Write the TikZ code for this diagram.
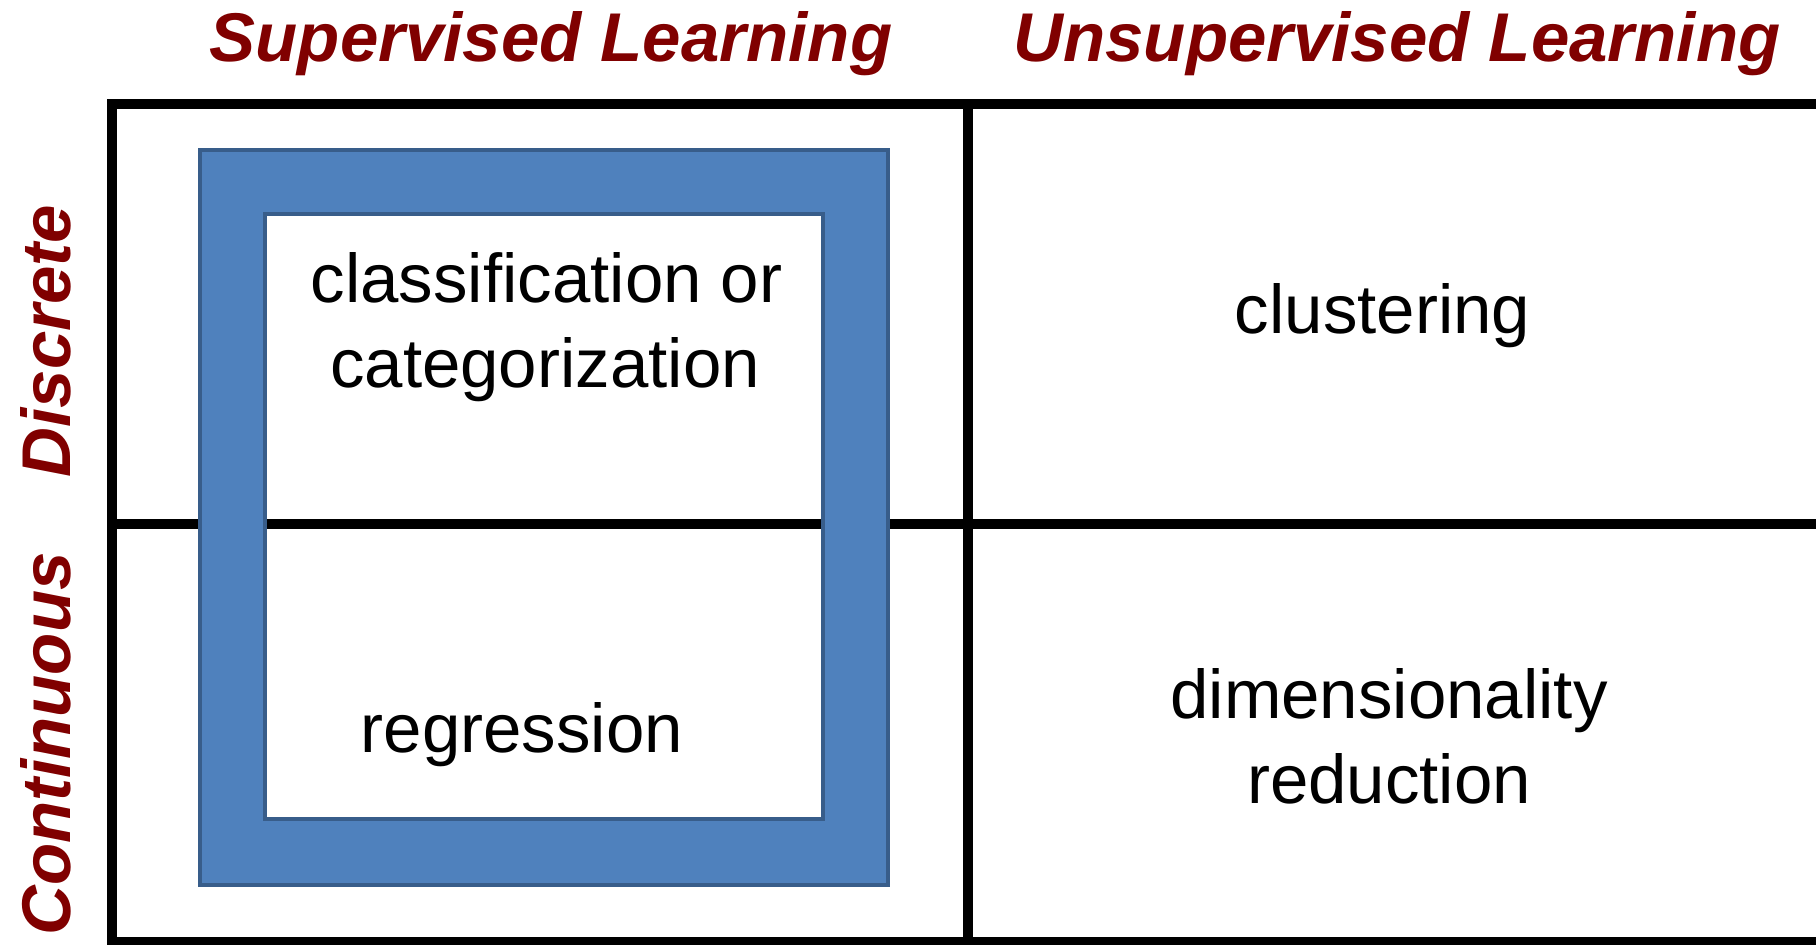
\documentclass[tikz,border=0pt]{standalone}
\usepackage{fontspec}
\setmainfont{Liberation Sans}
\definecolor{titlered}{RGB}{128,0,0}
\definecolor{frameblue}{RGB}{79,129,189}
\definecolor{frameline}{RGB}{56,93,138}
\tikzset{
  gridline/.style={line width=5pt, black, line join=miter},
  headtext/.style={font=\fontsize{34.5}{40}\selectfont\bfseries\itshape, text=titlered, inner sep=0pt, anchor=base},
  celltext/.style={font=\fontsize{34.5}{42}\selectfont, text=black, inner sep=0pt, anchor=base},
  framestyle/.style={fill=frameblue, draw=frameline, line width=2pt, even odd rule}
}
\begin{document}
\begin{tikzpicture}[x=0.5pt,y=-0.5pt]
\useasboundingbox (0,0) rectangle (1816,945);
\clip (0,0) rectangle (1816,945);
% grid coordinates
\coordinate (tl) at (112,104);
\coordinate (tr) at (1830,104);
\coordinate (bl) at (112,942);
\coordinate (br) at (1830,942);
\coordinate (mt) at (968,104);
\coordinate (mb) at (968,942);
\coordinate (ml) at (112,524.5);
\coordinate (mr) at (1830,524.5);
\draw[gridline] (tr) -- (tl) -- (bl) -- (br);
\draw[gridline] (mt) -- (mb);
\draw[gridline] (ml) -- (mr);
% blue frame
\coordinate (fo1) at (200,150);
\coordinate (fo2) at (888,885);
\coordinate (fi1) at (265,214);
\coordinate (fi2) at (823,819);
\path[framestyle] (fo1) rectangle (fo2) (fi1) rectangle (fi2);
% headings
\node[headtext] (sup) at (551,62) {Supervised Learning};
\node[headtext] (unsup) at (1397,62) {Unsupervised Learning};
\node[headtext, rotate=90] (disc) at (70,341) {Discrete};
\node[headtext, rotate=90] (cont) at (70,744) {Continuous};
% cell texts
\node[celltext] (cls1) at (546.5,303) {classification or};
\node[celltext] (cls2) at (545,388) {categorization};
\node[celltext] (reg) at (522,753) {regression};
\node[celltext] (clu) at (1382.5,334) {clustering};
\node[celltext] (dim1) at (1389,719) {dimensionality};
\node[celltext] (dim2) at (1389,804) {reduction};
\end{tikzpicture}
\end{document}
